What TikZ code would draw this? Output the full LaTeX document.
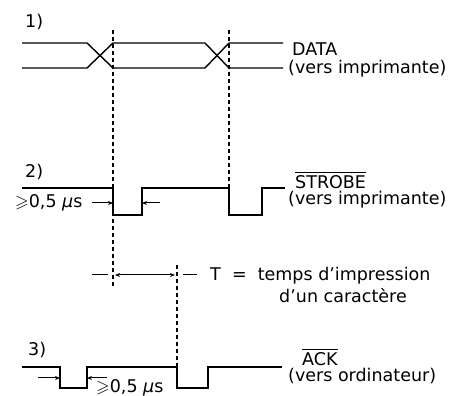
\documentclass[tikz,border=0pt]{standalone}
\usepackage{amssymb}
\usepackage{fontspec}
\setmainfont{DejaVu Sans}
\usetikzlibrary{arrows.meta}

\tikzset{
  sig/.style={line width=1.4pt},
  guide/.style={line width=1.5pt, dash pattern=on 4.5pt off 2.5pt},
  dur/.style={line width=1pt},
  lbl/.style={anchor=west, inner sep=0pt, font=\fontsize{17.5}{20}\selectfont},
}

\begin{document}
\begin{tikzpicture}[x=10pt, y=-10pt, >={Stealth[length=5pt,width=4pt]}]
\useasboundingbox (0,0) rectangle (45.1,39.6);
% dashed guides
\draw[guide] (11.3,3.0) -- (11.3,28.8);
\draw[guide] (22.9,3.0) -- (22.9,18.8);
\draw[guide] (17.7,26.5) -- (17.7,36.7);
% 1) DATA
\node[lbl] (num1) at (2.5,2.2) {1)};
\draw[sig] (2.2,4.3) -- (8.7,4.3) -- (11.3,6.8) -- (20.5,6.8) -- (22.9,4.3) -- (28.3,4.3);
\draw[sig] (2.2,6.8) -- (8.7,6.8) -- (11.3,4.3) -- (20.5,4.3) -- (22.9,6.8) -- (28.3,6.8);
\node[lbl] (data) at (29.2,4.9) {DATA};
\node[lbl] (dataTo) at (28.8,6.9) {(vers imprimante)};
% 2) STROBE
\node[lbl] (num2) at (2.5,17.2) {2)};
\draw[sig] (2.2,18.8) -- (11.3,18.8) -- (11.3,21.5) -- (14.2,21.5) -- (14.2,18.8) -- (22.9,18.8)
  -- (22.9,21.5) -- (26.2,21.5) -- (26.2,18.8) -- (28.5,18.8);
\node[lbl] (strobe) at (29.5,18.0) {$\overline{\mbox{STROBE}}$};
\node[lbl] (strobeTo) at (28.8,20.0) {(vers imprimante)};
\draw[dur,->] (9.2,20.3) -- (11.3,20.3);
\draw[dur,->] (16.0,20.3) -- (14.2,20.3);
\node[lbl] (strobeMin) at (1.5,20.3) {$\geqslant$0,5 \textit{μ}s};
% T
\draw[dur] (9.2,27.5) -- (10.8,27.5);
\draw[dur,<->] (11.5,27.5) -- (17.5,27.5);
\draw[dur] (18.3,27.5) -- (19.7,27.5);
\node[lbl] (tDef) at (21.0,27.6) {T \ = \ temps d'impression};
\node[lbl, anchor=center] (tDef2) at (34.3,29.6) {d'un caractère};
% 3) ACK
\node[lbl] (num3) at (2.8,35.0) {3)};
\draw[sig] (2.2,36.7) -- (6.0,36.7) -- (6.0,38.8) -- (8.7,38.8) -- (8.7,36.7) -- (17.7,36.7)
  -- (17.7,38.8) -- (20.8,38.8) -- (20.8,36.7) -- (28.2,36.7);
\node[lbl] (ack) at (30.2,35.7) {$\overline{\mbox{ACK}}$};
\node[lbl] (ackTo) at (28.8,37.6) {(vers ordinateur)};
\draw[dur,->] (3.8,37.8) -- (6.0,37.8);
\draw[dur,->] (10.7,37.8) -- (8.7,37.8);
\node[lbl, anchor=base west] (ackMin) at (9.6,39.25) {$\geqslant$0,5 \textit{μ}s};
\end{tikzpicture}
\end{document}
